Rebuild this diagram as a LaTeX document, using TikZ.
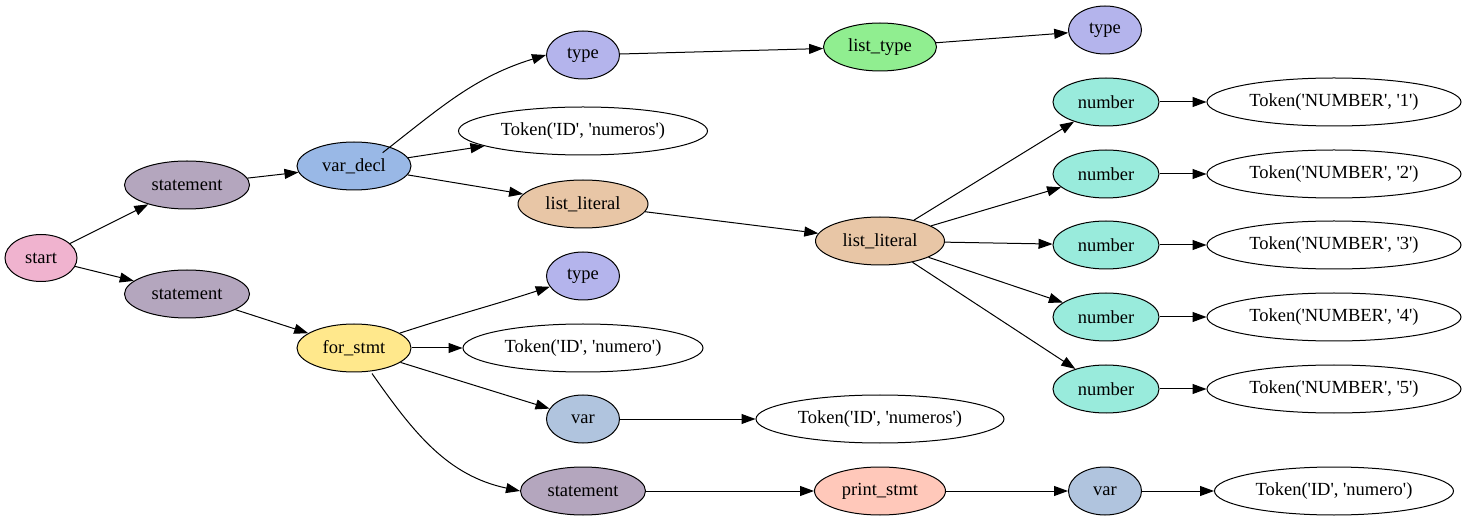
\documentclass[tikz,border=0pt]{standalone}
\usepackage{fontspec}
\setmainfont{Liberation Serif}[Ligatures=TeXOff]
\usetikzlibrary{shapes.geometric,arrows.meta}
\definecolor{cstart}{RGB}{240,179,207}
\definecolor{cstmt}{RGB}{180,166,190}
\definecolor{cvardecl}{RGB}{153,184,230}
\definecolor{cfor}{RGB}{255,232,140}
\definecolor{ctype}{RGB}{180,180,236}
\definecolor{clist}{RGB}{232,198,166}
\definecolor{cltype}{RGB}{144,238,144}
\definecolor{cnum}{RGB}{153,235,220}
\definecolor{cvar}{RGB}{176,196,222}
\definecolor{cprint}{RGB}{255,200,186}
\tikzset{
  nd/.style={ellipse, draw=black, line width=1pt, inner sep=0pt, minimum height=48pt,
    font=\fontsize{18.5}{20}\selectfont},
  edge/.style={draw=black, line width=1pt, -{Triangle[length=14pt,width=10pt]}},
}
\begin{document}
\begin{tikzpicture}[x=1pt,y=-1pt]
\useasboundingbox (0,0) rectangle (1468,521);
\node[nd, fill=cstart, minimum width=72pt, minimum height=47pt] (start) at (41,258) {start};
\node[nd, fill=cstmt, minimum width=125pt] (s1) at (187,185) {statement};
\node[nd, fill=cstmt, minimum width=125pt] (s2) at (187,294) {statement};
\node[nd, fill=cvardecl, minimum width=114pt] (vd) at (354,166) {var\_decl};
\node[nd, fill=cfor, minimum width=114pt] (fs) at (354,348) {for\_stmt};
\node[nd, fill=ctype, minimum width=73pt] (t1) at (583,55) {type};
\node[nd, fill=white, minimum width=249pt] (tk1) at (583,131) {Token('ID', 'numeros')};
\node[nd, fill=clist, minimum width=130pt] (ll1) at (583,204) {list\_literal};
\node[nd, fill=ctype, minimum width=73pt] (t2) at (583,276) {type};
\node[nd, fill=white, minimum width=240pt] (tk2) at (583,348) {Token('ID', 'numero')};
\node[nd, fill=cvar, minimum width=73pt] (v1) at (583,419) {var};
\node[nd, fill=cstmt, minimum width=125pt] (s3) at (583,491) {statement};
\node[nd, fill=cltype, minimum width=113pt] (lt) at (880,47) {list\_type};
\node[nd, fill=clist, minimum width=129pt] (ll2) at (880,241) {list\_literal};
\node[nd, fill=white, minimum width=248pt] (tk3) at (880,419) {Token('ID', 'numeros')};
\node[nd, fill=cprint, minimum width=131pt] (ps) at (880,491) {print\_stmt};
\node[nd, fill=ctype, minimum width=73pt] (t3) at (1105,30) {type};
\node[nd, fill=cnum, minimum width=106pt] (n1) at (1106,102) {number};
\node[nd, fill=cnum, minimum width=106pt] (n2) at (1106,174) {number};
\node[nd, fill=cnum, minimum width=106pt] (n3) at (1106,245) {number};
\node[nd, fill=cnum, minimum width=106pt] (n4) at (1106,317) {number};
\node[nd, fill=cnum, minimum width=106pt] (n5) at (1106,389) {number};
\node[nd, fill=cvar, minimum width=73pt] (v2) at (1105,491) {var};
\node[nd, fill=white, minimum width=254pt] (k1) at (1334,102) {Token('NUMBER', '1')};
\node[nd, fill=white, minimum width=254pt] (k2) at (1334,174) {Token('NUMBER', '2')};
\node[nd, fill=white, minimum width=254pt] (k3) at (1334,245) {Token('NUMBER', '3')};
\node[nd, fill=white, minimum width=254pt] (k4) at (1334,317) {Token('NUMBER', '4')};
\node[nd, fill=white, minimum width=254pt] (k5) at (1334,389) {Token('NUMBER', '5')};
\node[nd, fill=white, minimum width=239pt] (k6) at (1334,491) {Token('ID', 'numero')};

\draw[edge] (start) -- (s1);
\draw[edge] (start) -- (s2);
\draw[edge] (s1) -- (vd);
\draw[edge] (s2) -- (fs);
\draw[edge] (vd.north east) ++(-12,4) to[out=38,in=197] (t1.west);
\draw[edge] (vd) -- (tk1);
\draw[edge] (vd) -- (ll1);
\draw[edge] (fs) to[out=18,in=198] (t2);
\draw[edge] (fs) -- (tk2);
\draw[edge] (fs) -- (v1);
\draw[edge] (fs.south) ++(18,1) to[out=-55,in=168] (s3.west);
\draw[edge] (t1) -- (lt);
\draw[edge] (ll1) -- (ll2);
\draw[edge] (v1) -- (tk3);
\draw[edge] (s3) -- (ps);
\draw[edge] (lt) -- (t3);
\draw[edge] (ll2) -- (n1);
\draw[edge] (ll2) -- (n2);
\draw[edge] (ll2) -- (n3);
\draw[edge] (ll2) -- (n4);
\draw[edge] (ll2) -- (n5);
\draw[edge] (ps) -- (v2);
\draw[edge] (n1) -- (k1);
\draw[edge] (n2) -- (k2);
\draw[edge] (n3) -- (k3);
\draw[edge] (n4) -- (k4);
\draw[edge] (n5) -- (k5);
\draw[edge] (v2) -- (k6);
\end{tikzpicture}
\end{document}
